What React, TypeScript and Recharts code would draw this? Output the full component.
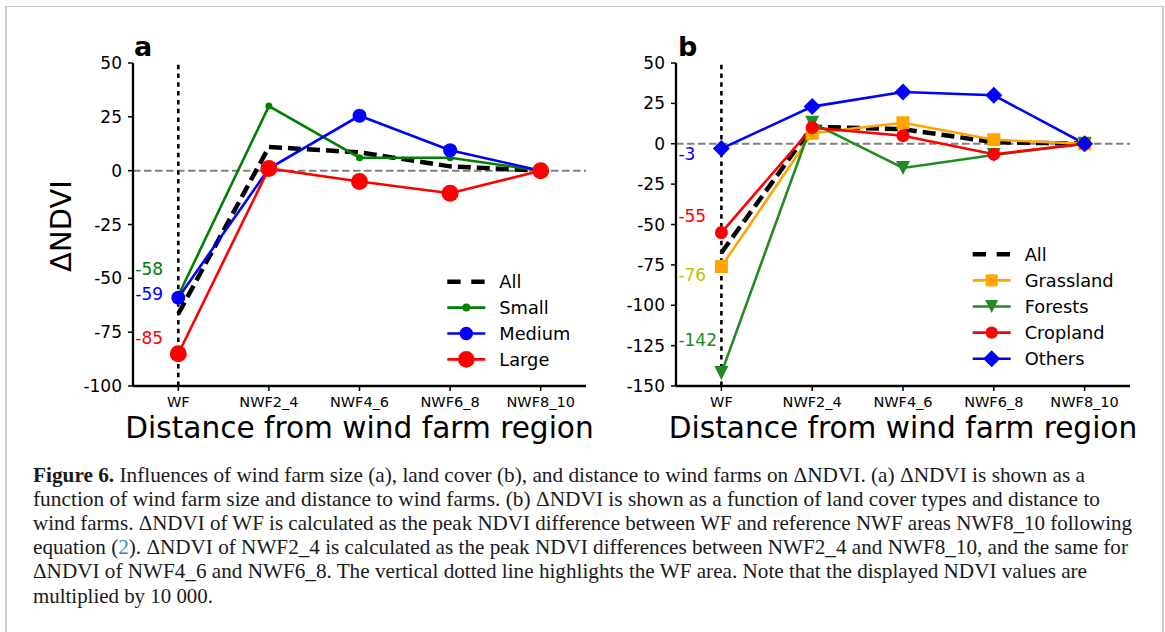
import React from 'react'
import { LineChart, Line, XAxis, YAxis, ReferenceLine, ReferenceDot } from 'recharts'

const categories = ['WF', 'NWF2_4', 'NWF4_6', 'NWF6_8', 'NWF8_10']

// panel a: wind farm size
const allSize = [-66.5, 11, 8.5, 2, 0]
const small = [-58, 30, 6, 6, 0]
const medium = [-59, 1, 25.5, 9.5, 0]
const large = [-85, 1, -5, -10.5, 0]
const ticksA = [50, 25, 0, -25, -50, -75, -100]

// panel b: land cover
const allCover = [-67.5, 10.5, 9, 1, 0]
const grassland = [-76, 6.5, 13, 2.5, 0]
const forests = [-142, 13, -15, -7, 0]
const cropland = [-55, 10, 5, -6.5, 0]
const others = [-3, 23, 32, 30, 0]
const ticksB = [50, 25, 0, -25, -50, -75, -100, -125, -150]

// WF value notes: text, colour, y of the note (data units)
const notesA: [string, string, number][] = [
  ['-58', '#008000', -45.5], ['-59', '#0000ff', -57], ['-85', '#ff0000', -77.5],
]
const notesB: [string, string, number][] = [
  ['-3', '#0000ff', -6.2], ['-55', '#ff0000', -44.6], ['-76', '#bfbf00', -81.1], ['-142', '#228b22', -121.4],
]

const FONT = 'DejaVu Sans'
const GREEN = '#008000'
const FGREEN = '#228b22'
const BLUE = '#0000ff'
const RED = '#ff0000'
const ORANGE = '#ffa500'
const SPINE = 2.3

const dataA = categories.map((name, i) => ({ name, all: allSize[i], small: small[i], medium: medium[i], large: large[i] }))
const dataB = categories.map((name, i) => ({
  name, all: allCover[i], grass: grassland[i], forest: forests[i], crop: cropland[i], others: others[i],
}))

type Shape = 'circle' | 'square' | 'tri' | 'diamond'
function marker(shape: Shape, size: number, fill: string, cx: number, cy: number, key?: string) {
  if (shape === 'circle') return <circle key={key} cx={cx} cy={cy} r={size} fill={fill} />
  if (shape === 'square') return <rect key={key} x={cx - size} y={cy - size} width={size * 2} height={size * 2} fill={fill} />
  if (shape === 'tri')
    return <polygon key={key} points={`${cx - size},${cy - size} ${cx + size},${cy - size} ${cx},${cy + size}`} fill={fill} />
  return <polygon key={key} points={`${cx},${cy - size} ${cx + size},${cy} ${cx},${cy + size} ${cx - size},${cy}`} fill={fill} />
}
const dot = (shape: Shape, size: number, fill: string) => (p: any) => marker(shape, size, fill, p.cx, p.cy, `d${p.index}`)

const note = (text: string, color: string) => (props: any) => {
  const vb = props.viewBox
  const cx = vb.x + (vb.width || 0) / 2
  const cy = vb.y + (vb.height || 0) / 2
  return (
    <text x={cx - 43} y={cy} dy="0.36em" fill={color} fontSize={17} fontFamily={FONT}>{text}</text>
  )
}

type Item = { label: string; color: string; dashed?: boolean; shape?: Shape; size?: number }
const legendA: Item[] = [
  { label: 'All', color: '#000', dashed: true },
  { label: 'Small', color: GREEN, shape: 'circle', size: 4 },
  { label: 'Medium', color: BLUE, shape: 'circle', size: 6.7 },
  { label: 'Large', color: RED, shape: 'circle', size: 8.3 },
]
const legendB: Item[] = [
  { label: 'All', color: '#000', dashed: true },
  { label: 'Grassland', color: ORANGE, shape: 'square', size: 6 },
  { label: 'Forests', color: FGREEN, shape: 'tri', size: 6.5 },
  { label: 'Cropland', color: RED, shape: 'circle', size: 6.2 },
  { label: 'Others', color: BLUE, shape: 'diamond', size: 8.5 },
]

function LegendBox({ x, y, step, items }: { x: number; y: number; step: number; items: Item[] }) {
  return (
    <g>
      {items.map((it, i) => {
        const cy = y + i * step
        return (
          <g key={it.label}>
            <line x1={x} x2={x + 38} y1={cy} y2={cy} stroke={it.color}
                  strokeWidth={it.dashed ? 4.5 : 2.6} strokeDasharray={it.dashed ? '13.3 10.7' : undefined} />
            {it.shape && marker(it.shape, it.size!, it.color, x + 19, cy)}
            <text x={x + 52} y={cy} dy="0.36em" fontSize={17.8} fontFamily={FONT} fill="#000">{it.label}</text>
          </g>
        )
      })}
    </g>
  )
}

const tickStyle = { fill: '#000', fontSize: 17, fontFamily: FONT }
const xTickStyle = { fill: '#000', fontSize: 14.5, fontFamily: FONT }
const axisLine = { stroke: '#000', strokeWidth: SPINE }
const tickLine = { stroke: '#000', strokeWidth: 1.5 }

function Frame({ domain, ticks }: { domain: [number, number]; ticks: number[] }) {
  return null
}

function PanelA() {
  return (
    <LineChart width={600} height={460} data={dataA} margin={{ top: 63, right: 14, bottom: 34, left: 73 }}>
      <XAxis dataKey="name" height={40} padding={{ left: 45.3, right: 45.3 }} tick={xTickStyle} tickSize={5}
             tickMargin={6} axisLine={axisLine} tickLine={tickLine} interval={0} />
      <XAxis xAxisId="top" dataKey="name" orientation="top" height={0} tick={false} tickLine={false} axisLine={axisLine} />
      <YAxis type="number" domain={[-100, 50]} ticks={ticksA} width={60} tick={tickStyle} tickSize={5} tickMargin={6}
             axisLine={axisLine} tickLine={tickLine} interval={0} />
      <YAxis yAxisId="right" orientation="right" type="number" domain={[-100, 50]} width={0} tick={false}
             tickLine={false} axisLine={axisLine} />
      <ReferenceLine y={0} stroke="#808080" strokeWidth={2} strokeDasharray="7.5 3.5" />
      <ReferenceLine x="WF" stroke="#000" strokeWidth={2.6} strokeDasharray="4.5 4.3" />
      <Line dataKey="all" stroke="#000" strokeWidth={4.5} strokeDasharray="13 6" dot={false} activeDot={false} isAnimationActive={false} />
      <Line dataKey="small" stroke={GREEN} strokeWidth={2.6} dot={dot('circle', 3.5, GREEN)} activeDot={false} isAnimationActive={false} />
      <Line dataKey="medium" stroke={BLUE} strokeWidth={2.6} dot={dot('circle', 7, BLUE)} activeDot={false} isAnimationActive={false} />
      <Line dataKey="large" stroke={RED} strokeWidth={2.6} dot={dot('circle', 8.5, RED)} activeDot={false} isAnimationActive={false} />
      {notesA.map(([t, c, y]) => (
        <ReferenceDot key={t} x="WF" y={y} r={0} fill="none" stroke="none" label={note(t, c)} />
      ))}
    </LineChart>
  )
}

function PanelB() {
  return (
    <LineChart width={565} height={460} data={dataB} margin={{ top: 63, right: 35, bottom: 34, left: 16 }}>
      <XAxis dataKey="name" height={40} padding={{ left: 45.4, right: 45.4 }} tick={xTickStyle} tickSize={5}
             tickMargin={6} axisLine={axisLine} tickLine={tickLine} interval={0} />
      <XAxis xAxisId="top" dataKey="name" orientation="top" height={0} tick={false} tickLine={false} axisLine={axisLine} />
      <YAxis type="number" domain={[-150, 50]} ticks={ticksB} width={60} tick={tickStyle} tickSize={5} tickMargin={6}
             axisLine={axisLine} tickLine={tickLine} interval={0} />
      <YAxis yAxisId="right" orientation="right" type="number" domain={[-150, 50]} width={0} tick={false}
             tickLine={false} axisLine={axisLine} />
      <ReferenceLine y={0} stroke="#808080" strokeWidth={2} strokeDasharray="7.5 3.5" />
      <ReferenceLine x="WF" stroke="#000" strokeWidth={2.6} strokeDasharray="4.5 4.3" />
      <Line dataKey="all" stroke="#000" strokeWidth={4.5} strokeDasharray="13 6" dot={false} activeDot={false} isAnimationActive={false} />
      <Line dataKey="grass" stroke={ORANGE} strokeWidth={2.6} dot={dot('square', 6.5, ORANGE)} activeDot={false} isAnimationActive={false} />
      <Line dataKey="forest" stroke={FGREEN} strokeWidth={2.6} dot={dot('tri', 7, FGREEN)} activeDot={false} isAnimationActive={false} />
      <Line dataKey="crop" stroke={RED} strokeWidth={2.6} dot={dot('circle', 6.5, RED)} activeDot={false} isAnimationActive={false} />
      <Line dataKey="others" stroke={BLUE} strokeWidth={2.6} dot={dot('diamond', 8.5, BLUE)} activeDot={false} isAnimationActive={false} />
      {notesB.map(([t, c, y]) => (
        <ReferenceDot key={t} x="WF" y={y} r={0} fill="none" stroke="none" label={note(t, c)} />
      ))}
    </LineChart>
  )
}

const captionLines: { parts: [string, string?][]; width: number }[] = [
  { parts: [['Figure 6.', 'bold'], [' Influences of wind farm size (a), land cover (b), and distance to wind farms on ΔNDVI. (a) ΔNDVI is shown as a']], width: 1052 },
  { parts: [['function of wind farm size and distance to wind farms. (b) ΔNDVI is shown as a function of land cover types and distance to']], width: 1067 },
  { parts: [['wind farms. ΔNDVI of WF is calculated as the peak NDVI difference between WF and reference NWF areas NWF8_10 following']], width: 1099 },
  { parts: [['equation ('], ['2', 'link'], ['). ΔNDVI of NWF2_4 is calculated as the peak NDVI differences between NWF2_4 and NWF8_10, and the same for']], width: 1095 },
  { parts: [['ΔNDVI of NWF4_6 and NWF6_8. The vertical dotted line highlights the WF area. Note that the displayed NDVI values are']], width: 1054 },
  { parts: [['multiplied by 10 000.']], width: 180 },
]

export default function App() {
  return (
    <div style={{ position: 'relative', width: 1165, height: 632, background: '#fff', overflow: 'hidden' }}>
      <style>{'body{margin:0}'}</style>
      <div style={{
        position: 'absolute', left: 5, top: 6, width: 1155, height: 640,
        borderTop: '1.5px solid #c4c4c4', borderLeft: '2px solid #cfcfcf', borderRight: '2px solid #cfcfcf',
      }} />
      <div style={{ position: 'absolute', left: 0, top: 0 }}><PanelA /></div>
      <div style={{ position: 'absolute', left: 600, top: 0 }}><PanelB /></div>
      <svg width={1165} height={632} style={{ position: 'absolute', left: 0, top: 0, pointerEvents: 'none' }}>
        <text x={134} y={56} fontSize={27} fontWeight="bold" fontFamily={FONT}>a</text>
        <text x={678} y={56} fontSize={27} fontWeight="bold" fontFamily={FONT}>b</text>
        <text x={70.5} y={226} fontSize={29} fontFamily={FONT} textAnchor="middle" transform="rotate(-90 70.5 226)">ΔNDVI</text>
        <text x={359.5} y={438.3} fontSize={29.6} fontFamily={FONT} textAnchor="middle">Distance from wind farm region</text>
        <text x={903} y={438.3} fontSize={29.6} fontFamily={FONT} textAnchor="middle">Distance from wind farm region</text>
        <LegendBox x={447.3} y={281.7} step={25.9} items={legendA} />
        <LegendBox x={972.7} y={254.3} step={26.1} items={legendB} />
        {captionLines.map((ln, i) => (
          <text key={i} x={33} y={481.5 + i * 24.2} fontSize={21} fontFamily="Liberation Serif" fill="#1a1a1a"
                textLength={ln.width} lengthAdjust="spacingAndGlyphs">
            {ln.parts.map(([t, kind], j) => (
              <tspan key={j} fontWeight={kind === 'bold' ? 'bold' : undefined} fill={kind === 'link' ? '#2e8bc0' : undefined}>{t}</tspan>
            ))}
          </text>
        ))}
      </svg>
    </div>
  )
}
